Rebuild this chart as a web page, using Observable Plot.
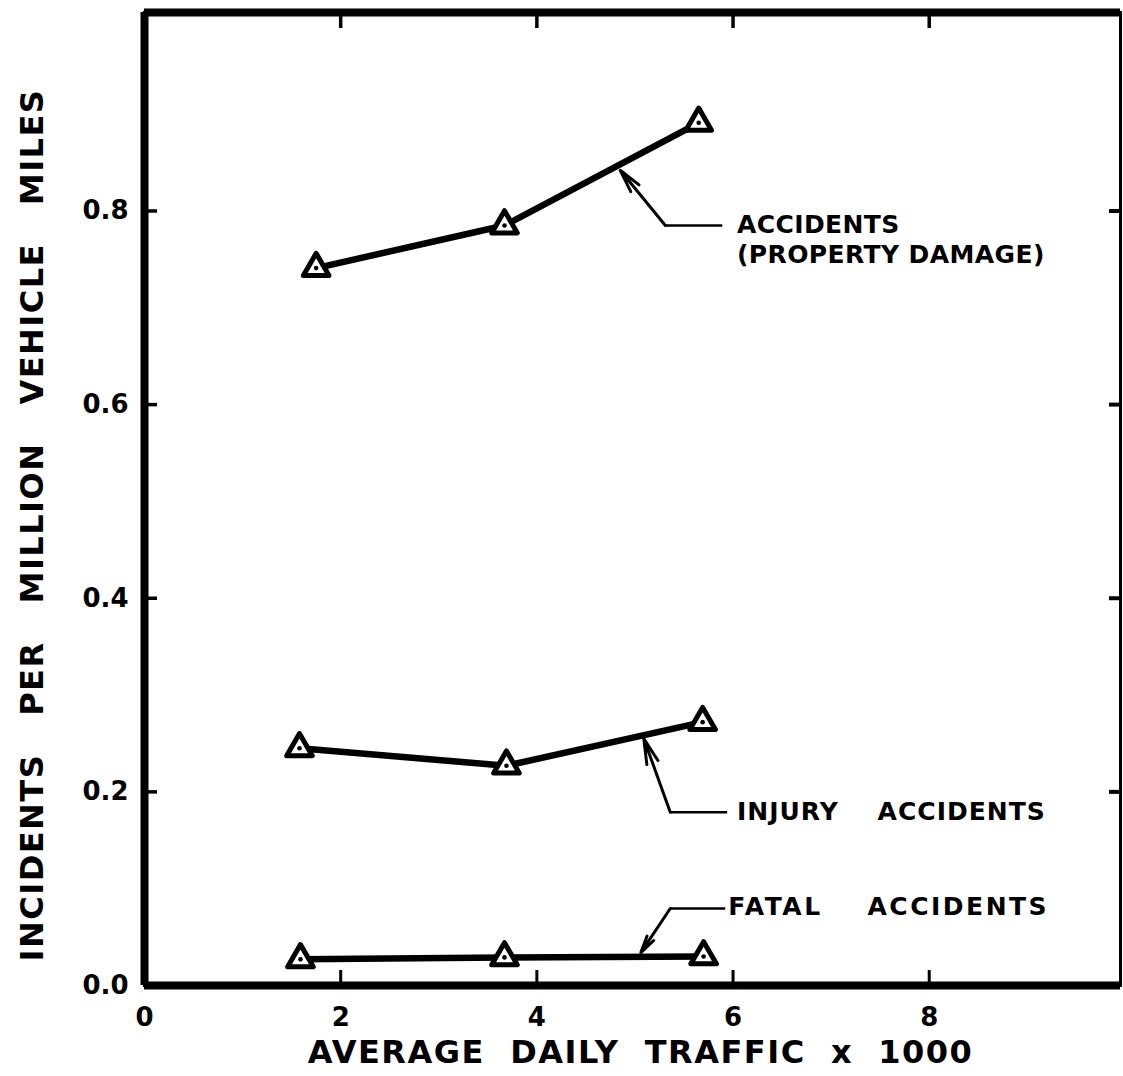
<!DOCTYPE html>
<html><head><meta charset="utf-8">
<script src="https://cdn.jsdelivr.net/npm/d3@7"></script>
<script src="https://cdn.jsdelivr.net/npm/@observablehq/plot@0.6"></script>
<style>
body{margin:0;background:#fff}
#chart svg{background:#fff}
#chart svg text{font-family:"DejaVu Sans",sans-serif;font-weight:bold}
</style></head><body><div id="chart"></div>
<script>
// ---- data ----
const NB = "\u00a0";
const gap = n => NB.repeat(n);
const xTitle = ["AVERAGE", "DAILY", "TRAFFIC", "x", "1000"].join(gap(2));
const yTitle = ["INCIDENTS", "PER", "MILLION", "VEHICLE", "MILES"].join(gap(3));
const xDomain = [0, 9.95];
const yDomain = [0, 1.005];
const xTickLabels = [0, 2, 4, 6, 8];
const xInnerTicks = [2, 4, 6, 8];
const yTickLabels = [0, 0.2, 0.4, 0.6, 0.8];
const yInnerTicks = [0.2, 0.4, 0.6, 0.8];

const propTraffic = [1.75, 3.67, 5.65];
const propRate    = [0.741, 0.785, 0.891];
const injTraffic  = [1.58, 3.69, 5.69];
const injRate     = [0.245, 0.227, 0.272];
const fatTraffic  = [1.59, 3.67, 5.70];
const fatRate     = [0.027, 0.029, 0.030];

// annotations (data units)
const annText  = ["ACCIDENTS\n(PROPERTY DAMAGE)", "INJURY" + gap(4) + "ACCIDENTS", "FATAL" + gap(4) + "ACCIDENTS"];
const annTipX  = [4.85, 5.09, 5.06];
const annTipY  = [0.842, 0.255, 0.034];
const annKneeX = [5.31, 5.36, 5.36];
const annKneeY = [0.785, 0.179, 0.0795];
const annEndX  = [5.89, 5.94, 5.92];
const annTextX = [6.04, 6.04, 5.95];
const annTextY = [0.772, 0.181, 0.0826];

// ---- build tables ----
const points = [
  ...propTraffic.map((x, i) => ({series: "prop", x, y: propRate[i]})),
  ...injTraffic.map((x, i) => ({series: "inj", x, y: injRate[i]})),
  ...fatTraffic.map((x, i) => ({series: "fat", x, y: fatRate[i]}))
];
const ann = annText.map((t, i) => ({
  t, tx: annTipX[i], ty: annTipY[i], kx: annKneeX[i], ky: annKneeY[i], ex: annEndX[i], lx: annTextX[i], ly: annTextY[i]
}));

const chart = Plot.plot({
  width: 1123,
  height: 1076,
  marginLeft: 144,
  marginRight: 3,
  marginTop: 12,
  marginBottom: 91,
  style: {background: "#fff", color: "#000"},
  x: {domain: xDomain},
  y: {domain: yDomain},
  marks: [
    // frame
    Plot.frame({stroke: "#000", strokeWidth: 3}),
    Plot.ruleX([xDomain[0]], {stroke: "#000", strokeWidth: 8}),
    Plot.ruleY([yDomain[0]], {stroke: "#000", strokeWidth: 8}),
    Plot.ruleY([yDomain[1]], {stroke: "#000", strokeWidth: 8}),
    // inward ticks
    Plot.axisX(xInnerTicks, {anchor: "bottom", tickSize: -15, strokeWidth: 3, text: null, label: null}),
    Plot.axisX(xInnerTicks, {anchor: "top", tickSize: -15, strokeWidth: 3.5, text: null, label: null}),
    Plot.axisY(yInnerTicks, {anchor: "left", tickSize: -13, strokeWidth: 3.5, text: null, label: null}),
    Plot.axisY(yInnerTicks, {anchor: "right", tickSize: -12, strokeWidth: 4, text: null, label: null}),
    // tick labels
    Plot.axisX(xTickLabels, {anchor: "bottom", tickSize: 0, tickPadding: 22, fontSize: 26, label: null, tickFormat: d => String(d)}),
    Plot.axisY(yTickLabels, {anchor: "left", tickSize: 0, tickPadding: 16, fontSize: 26, label: null, tickFormat: d => d.toFixed(1)}),
    // titles
    Plot.text([yTitle], {frameAnchor: "left", dx: -112, dy: 26, rotate: -90, fontSize: 32, textAnchor: "middle"}),
    Plot.text([xTitle], {frameAnchor: "bottom", dx: 8, dy: 67, fontSize: 32, textAnchor: "middle", lineAnchor: "middle"}),
    // series lines
    Plot.line(points, {x: "x", y: "y", z: "series", stroke: "#000", strokeWidth: 6.5}),
    Plot.dot(points, {x: "x", y: "y", symbol: "triangle", r: 9.5, fill: "#fff", stroke: "#000", strokeWidth: 5, strokeLinejoin: "round"}),
    Plot.dot(points, {x: "x", y: "y", r: 2.3, fill: "#000"}),
    // annotation leaders
    Plot.link(ann, {x1: "kx", y1: "ky", x2: "ex", y2: "ky", stroke: "#000", strokeWidth: 2.5}),
    Plot.arrow(ann, {x1: "kx", y1: "ky", x2: "tx", y2: "ty", stroke: "#000", strokeWidth: 3, headLength: 20, headAngle: 26}),
    Plot.text(ann, {x: "lx", y: "ly", text: "t", textAnchor: "start", lineAnchor: "middle", fontSize: 25, lineHeight: 1.2, fill: "#000"})
  ]
});
// letter spacing for the hand-lettered look
d3.select(chart).selectAll("text").each(function () {
  const t = this.textContent;
  if (t.startsWith("INCIDENTS") || t.startsWith("AVERAGE")) this.style.letterSpacing = "1.5px";
  else if (t.startsWith("INJURY")) this.style.letterSpacing = "1px";
  else if (t.startsWith("FATAL")) this.style.letterSpacing = "2.5px";
  else if (t.startsWith("ACCIDENTS")) this.style.letterSpacing = "0.4px";
});
document.getElementById("chart").append(chart);
</script></body></html>
